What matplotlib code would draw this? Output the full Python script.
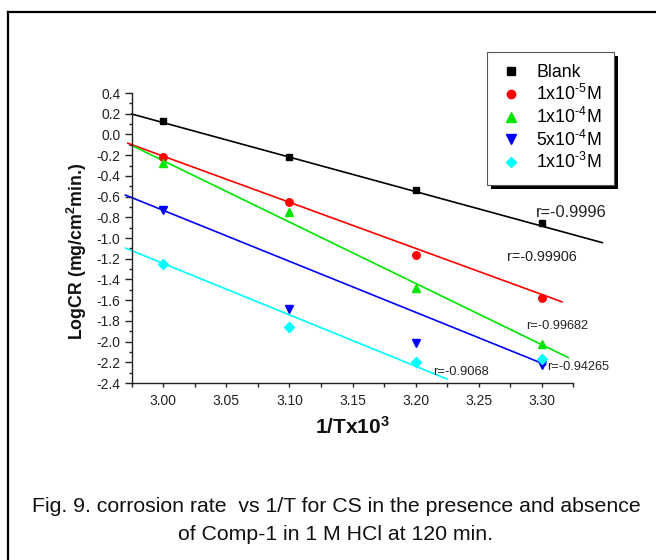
import matplotlib
matplotlib.use('Agg')
import matplotlib.pyplot as plt
import numpy as np
from matplotlib.lines import Line2D
from matplotlib.patches import Rectangle
from matplotlib.ticker import MultipleLocator, FuncFormatter
from matplotlib.transforms import IdentityTransform

plt.rcParams['font.family'] = ['Liberation Sans', 'DejaVu Sans']
plt.rcParams['mathtext.fontset'] = 'custom'
plt.rcParams['mathtext.rm'] = 'Liberation Sans'
plt.rcParams['mathtext.it'] = 'Liberation Sans:italic'
plt.rcParams['mathtext.bf'] = 'Liberation Sans:bold'
plt.rcParams['mathtext.default'] = 'regular'
plt.rcParams['axes.unicode_minus'] = False

# ---------------- data ----------------
inv_T = [3.00, 3.10, 3.20, 3.30]
series_labels = ['Blank', r'1x10$^{\text{-5}}$M', r'1x10$^{\text{-4}}$M',
                 r'5x10$^{\text{-4}}$M', r'1x10$^{\text{-3}}$M']
log_cr_blank = [0.13, -0.22, -0.536, -0.858]
log_cr_1e5 = [-0.221, -0.649, -1.164, -1.576]
log_cr_1e4 = [-0.279, -0.752, -1.485, -2.02]
log_cr_5e4 = [-0.729, -1.688, -2.016, -2.23]
log_cr_1e3 = [-1.251, -1.862, -2.20, -2.17]
# fitted straight lines: slope and value at 1/T = 3.00
fit_slope = [-3.33, -4.45, -5.92, -4.92, -4.96]
fit_value_at_3 = [0.114, -0.21, -0.254, -0.733, -1.246]
fit_x_start = [2.975, 2.972, 2.977, 2.970, 2.970]
fit_x_end = [3.348, 3.316, 3.321, 3.303, 3.225]
r_labels = ['r=-0.9996', 'r=-0.99906', 'r=-0.99682', 'r=-0.94265', 'r=-0.9068']

# ---------------- style ----------------
colors = ['#000000', '#ff0000', '#00e600', '#0000ff', '#00ffff']
markers = ['s', 'o', '^', 'v', 'D']
msizes = [4.6, 5.4, 6.0, 6.0, 4.8]
r_pos = [(3.295, -0.749), (3.2726, -1.180), (3.288, -1.846), (3.304, -2.242), (3.214, -2.290)]
r_fs = [11.8, 10.4, 9.2, 9.2, 9.3]

W, H = 656, 560
fig = plt.figure(figsize=(W / 100, H / 100), dpi=100)
ax = fig.add_axes([131.7 / W, 1 - 383 / H, (573.3 - 131.7) / W, (383 - 93) / H])

all_y = [log_cr_blank, log_cr_1e5, log_cr_1e4, log_cr_5e4, log_cr_1e3]
for i, ys in enumerate(all_y):
    xs = np.array([fit_x_start[i], fit_x_end[i]])
    ax.plot(xs, fit_value_at_3[i] + fit_slope[i] * (xs - 3.0), color=colors[i],
            lw=1.2, clip_on=False, zorder=2)
    ax.plot(inv_T, ys, linestyle='none', marker=markers[i], ms=msizes[i],
            color=colors[i], mec=colors[i], clip_on=False, zorder=3)
    ax.text(r_pos[i][0], r_pos[i][1], r_labels[i], fontsize=r_fs[i],
            ha='left', va='center', color='#222222')

ax.set_xlim(2.975, 3.325)
ax.set_ylim(-2.4, 0.4)
ax.spines['top'].set_visible(False)
ax.spines['right'].set_visible(False)
for s in ('left', 'bottom'):
    ax.spines[s].set_linewidth(1.0)
    ax.spines[s].set_color('#222222')


def yfmt(v, pos):
    s = '%.1f' % v
    return '0.0' if s == '-0.0' else s


ax.xaxis.set_major_locator(MultipleLocator(0.05))
ax.xaxis.set_minor_locator(MultipleLocator(0.025))
ax.yaxis.set_major_locator(MultipleLocator(0.2))
ax.yaxis.set_minor_locator(MultipleLocator(0.1))
ax.xaxis.set_major_formatter(FuncFormatter(lambda v, p: '%.2f' % v))
ax.yaxis.set_major_formatter(FuncFormatter(yfmt))
ax.tick_params(axis='both', which='both', direction='out', colors='#222222',
               labelsize=10, labelcolor='#222222')
ax.tick_params(axis='y', which='major', length=5, width=1, pad=3)
ax.tick_params(axis='y', which='minor', length=2.5, width=1)
ax.tick_params(axis='x', which='major', length=3, width=1, pad=5)
ax.tick_params(axis='x', which='minor', length=3, width=1)

# axis titles
fig.text(352 / W, 1 - 434 / H, '1/Tx10$^{3}$', fontsize=15, fontweight='bold',
         ha='center', va='baseline', color='#111111')
fig.text(83.3 / W, 1 - 251.5 / H, 'LogCR (mg/cm$^{2}$min.)', fontsize=12.8,
         fontweight='bold', rotation=90, rotation_mode='anchor',
         ha='center', va='baseline', color='#111111')

handles = [Line2D([], [], linestyle='none', marker=markers[i], ms=msizes[i] + 0.6,
                  color=colors[i], mec=colors[i]) for i in range(5)]
leg = ax.legend(handles, series_labels, loc='upper left',
                bbox_to_anchor=(486.7 / W, 1 - 51.7 / H), bbox_transform=fig.transFigure,
                borderaxespad=0, fontsize=12.8, frameon=True, fancybox=False,
                framealpha=1, facecolor='white',
                handlelength=1.27, handletextpad=0.8, borderpad=0.71, labelspacing=0.15)
leg.get_frame().set_edgecolor('#555555')
leg.get_frame().set_linewidth(0.8)
leg.set_zorder(10)

# caption
fig.text(336 / W, 1 - 512 / H, 'Fig. 9. corrosion rate  vs 1/T for CS in the presence and absence',
         ha='center', va='baseline', fontsize=15.3, color='#111111')
fig.text(336 / W, 1 - 540 / H, 'of Comp-1 in 1 M HCl at 120 min.',
         ha='center', va='baseline', fontsize=15.3, color='#111111')

# outer frame (left and top edges visible)
fig.add_artist(Line2D([8 / W, 8 / W], [0, 1 - 12 / H], transform=fig.transFigure,
                      color='black', lw=1.6))
fig.add_artist(Line2D([8 / W, 1], [1 - 12 / H, 1 - 12 / H], transform=fig.transFigure,
                      color='black', lw=1.6))

# legend shadow
fig.canvas.draw()
bb = leg.get_window_extent()
shadow = Rectangle((bb.x0 + 4, bb.y0 - 4), bb.width, bb.height, transform=IdentityTransform(),
                   facecolor='black', edgecolor='none', zorder=9, clip_on=False)
ax.add_artist(shadow)

fig.savefig('out.png', dpi=100, facecolor='white')
